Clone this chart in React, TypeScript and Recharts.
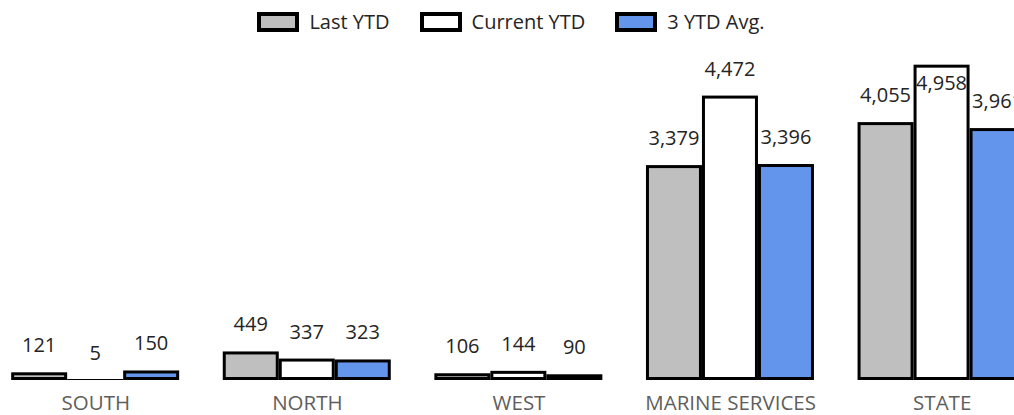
import { BarChart, Bar, XAxis, YAxis, LabelList } from "recharts";

const categories = ["SOUTH", "NORTH", "WEST", "MARINE SERVICES", "STATE"];
const lastYtd = [121, 449, 106, 3379, 4055];
const currentYtd = [5, 337, 144, 4472, 4958];
const avg3Ytd = [150, 323, 90, 3396, 3961];

const series = [
  { key: "last", name: "Last YTD", color: "#BFBFBF" },
  { key: "current", name: "Current YTD", color: "#FFFFFF" },
  { key: "avg", name: "3 YTD Avg.", color: "#6495ED" },
];

const data = categories.map((name, i) => ({
  name,
  last: lastYtd[i],
  current: currentYtd[i],
  avg: avg3Ytd[i],
}));

const FONT = "'Segoe UI', 'Open Sans', sans-serif";
const SW = 3;

// border drawn on the inside of the bar, like the source
function InsetBar(props: any) {
  const { x, y, width, height, fill } = props;
  if (!width || height == null) return null;
  const h = Math.max(height, 1);
  const top = y + height - h;
  const iw = width - SW * 2;
  const ih = h - SW * 2;
  return (
    <g>
      <rect x={x} y={top} width={width} height={h} fill="#000" />
      {iw > 0 && ih > 0 && <rect x={x + SW} y={top + SW} width={iw} height={ih} fill={fill} />}
    </g>
  );
}

function ValueLabel(props: any) {
  const { x, y, width, value } = props;
  const inside = y < 80;
  return (
    <text
      x={x + width / 2}
      y={inside ? y + 25 : y - 20}
      textAnchor="middle"
      fill="#252423"
      fontSize={20}
      fontFamily={FONT}
    >
      {Number(value).toLocaleString("en-US")}
    </text>
  );
}

function LegendRow() {
  return (
    <div
      style={{
        position: "absolute",
        top: 12,
        left: 0,
        width: 1022,
        display: "flex",
        justifyContent: "center",
        gap: 30,
        fontFamily: FONT,
        fontSize: 20,
        color: "#252423",
      }}
    >
      {series.map((s) => (
        <div key={s.key} style={{ display: "flex", alignItems: "center", height: 20 }}>
          <span
            style={{
              width: 42,
              height: 20,
              boxSizing: "border-box",
              border: "4px solid #000",
              background: s.color,
              marginRight: 10,
            }}
          />
          <span style={{ lineHeight: "20px" }}>{s.name}</span>
        </div>
      ))}
    </div>
  );
}

export default function App() {
  return (
    <div
      style={{
        position: "fixed",
        left: 0,
        top: 0,
        width: 1014,
        height: 415,
        overflow: "hidden",
        background: "#fff",
      }}
    >
      <LegendRow />
      <div style={{ position: "absolute", left: -10, top: 0 }}>
        <BarChart
          width={1058}
          height={415}
          data={data}
          margin={{ top: 62, right: 0, bottom: 0, left: 0 }}
          barCategoryGap="10%"
          barGap={0}
        >
          <XAxis
            dataKey="name"
            height={35}
            axisLine={false}
            tickLine={false}
            tickSize={0}
            tickMargin={15}
            interval={0}
            tick={{ fill: "#605E5C", fontSize: 20.5, fontFamily: FONT }}
          />
          <YAxis hide domain={[0, 5000]} />
          {series.map((s) => (
            <Bar
              key={s.key}
              dataKey={s.key}
              name={s.name}
              fill={s.color}
              shape={<InsetBar />}
              isAnimationActive={false}
            >
              <LabelList dataKey={s.key} content={<ValueLabel />} />
            </Bar>
          ))}
        </BarChart>
      </div>
    </div>
  );
}
